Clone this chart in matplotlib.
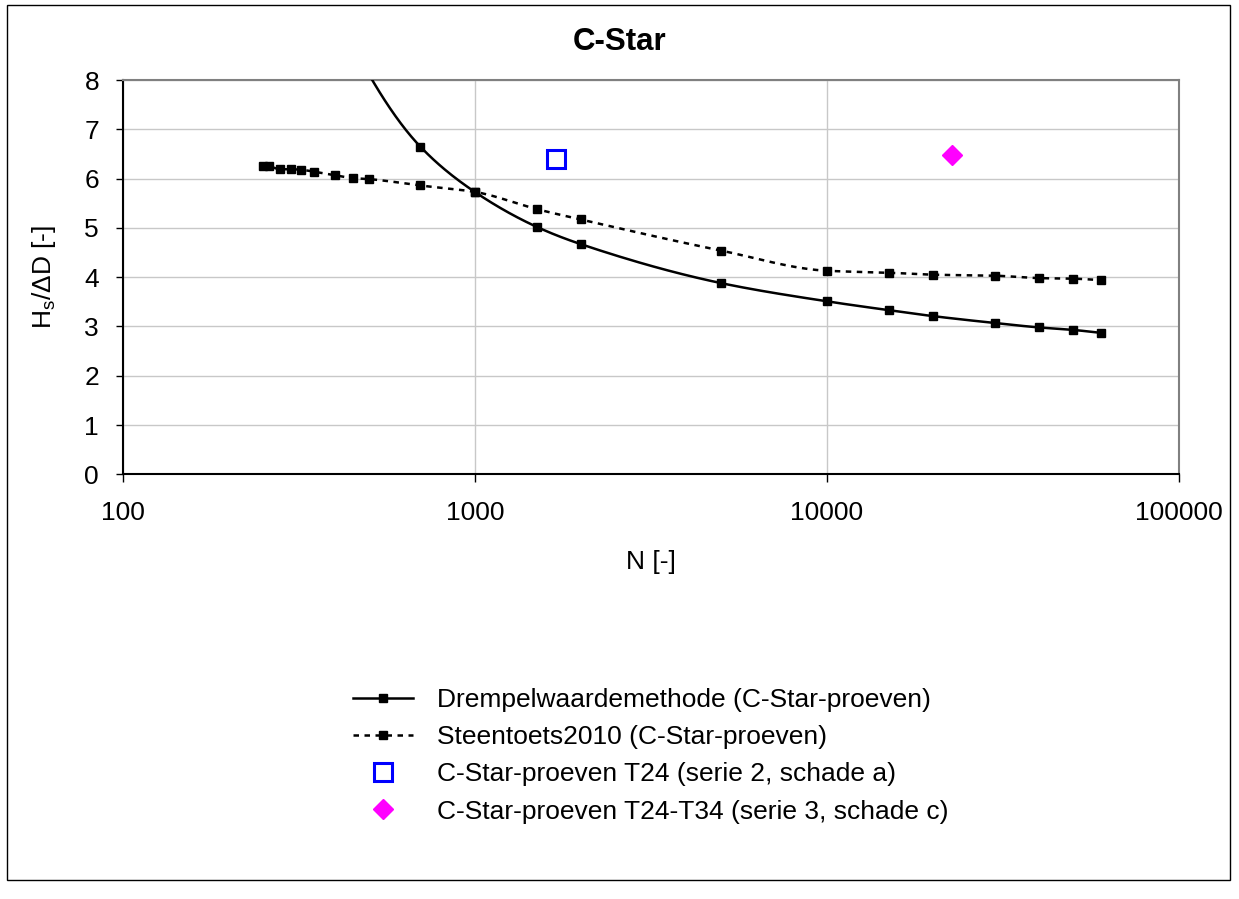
import matplotlib
matplotlib.use("Agg")
import matplotlib.pyplot as plt
import numpy as np
from matplotlib.lines import Line2D
from matplotlib.patches import Rectangle

plt.rcParams["font.family"] = ["Liberation Sans", "DejaVu Sans"]
plt.rcParams["mathtext.default"] = "regular"

# Drempelwaardemethode (C-Star-proeven); first two points lie above the axis limit
drempel_n = [450, 500, 700, 1000, 1500, 2000, 5000, 10000, 15000, 20000, 30000, 40000, 50000, 60000]
drempel_h = [8.8, 8.12, 6.65, 5.73, 5.02, 4.67, 3.88, 3.51, 3.33, 3.21, 3.07, 2.98, 2.93, 2.87]

# Steentoets2010 (C-Star-proeven)
steen_n = [250, 260, 280, 300, 320, 350, 400, 450, 500, 700, 1000, 1500, 2000, 5000,
           10000, 15000, 20000, 30000, 40000, 50000, 60000]
steen_h = [6.26, 6.25, 6.19, 6.19, 6.18, 6.14, 6.07, 6.01, 5.99, 5.86, 5.73, 5.38, 5.17, 4.54,
           4.13, 4.09, 4.05, 4.03, 3.98, 3.97, 3.94]

# test results
t24_n = [1700]
t24_h = [6.40]
t24_34_n = [22700]
t24_34_h = [6.47]

x_ticks = [100, 1000, 10000, 100000]
x_ticklabels = ["100", "1000", "10000", "100000"]
y_ticks = [0, 1, 2, 3, 4, 5, 6, 7, 8]

FS = 19
LW = 1.8
MS = 5.5
DASH = (2.2, 2.2)


def smooth(xs, ys, n=30):
    # monotone cubic (Fritsch-Carlson) through the points, in log-x space
    u = np.log10(np.asarray(xs, float))
    v = np.asarray(ys, float)
    h = np.diff(u)
    d = np.diff(v) / h
    m = np.zeros_like(v)
    m[0], m[-1] = d[0], d[-1]
    for k in range(1, len(v) - 1):
        if d[k - 1] * d[k] <= 0:
            m[k] = 0.0
        else:
            w1 = 2 * h[k] + h[k - 1]
            w2 = h[k] + 2 * h[k - 1]
            m[k] = (w1 + w2) / (w1 / d[k - 1] + w2 / d[k])
    out_u, out_v = [], []
    for k in range(len(v) - 1):
        t = np.linspace(0, 1, n)
        h00 = 2 * t ** 3 - 3 * t ** 2 + 1
        h10 = t ** 3 - 2 * t ** 2 + t
        h01 = -2 * t ** 3 + 3 * t ** 2
        h11 = t ** 3 - t ** 2
        seg_v = h00 * v[k] + h10 * h[k] * m[k] + h01 * v[k + 1] + h11 * h[k] * m[k + 1]
        seg_u = u[k] + t * h[k]
        if k > 0:
            seg_u, seg_v = seg_u[1:], seg_v[1:]
        out_u.extend(seg_u)
        out_v.extend(seg_v)
    return 10 ** np.array(out_u), np.array(out_v)


fig = plt.figure(figsize=(12.39, 8.99), dpi=100)
fig.patch.set_facecolor("white")
fig.patches.append(Rectangle((7 / 1239, 1 - 880 / 899), 1223 / 1239, 875 / 899,
                             transform=fig.transFigure, fill=False,
                             edgecolor="black", lw=1.0))

ax = fig.add_axes([0.0990, 0.4724, 0.8526, 0.4386])
ax.set_xscale("log")
ax.set_xlim(100, 100000)
ax.set_ylim(0, 8)

sx, sy = smooth(drempel_n, drempel_h)
ax.plot(sx, sy, color="black", lw=LW, zorder=3)
ax.plot(drempel_n, drempel_h, ls="none", marker="s", ms=MS, color="black", zorder=4)

tx, ty = smooth(steen_n, steen_h)
ax.plot(tx, ty, color="black", lw=LW, dashes=DASH, zorder=3)
ax.plot(steen_n, steen_h, ls="none", marker="s", ms=MS, color="black", zorder=4)

ax.plot(t24_n, t24_h, ls="none", marker="s", ms=12.5, mfc="white", mec="#0000ff", mew=2.2, zorder=5)
ax.plot(t24_34_n, t24_34_h, ls="none", marker="D", ms=10, mfc="#ff00ff", mec="#ff00ff", zorder=5)

ax.set_xticks(x_ticks)
ax.set_xticklabels(x_ticklabels)
ax.xaxis.set_minor_locator(matplotlib.ticker.NullLocator())
ax.set_yticks(y_ticks)
ax.grid(True, which="major", color="#c8c8c8", lw=1.0, zorder=0)
ax.set_axisbelow(True)

ax.tick_params(axis="x", direction="out", length=6, width=1, pad=13, labelsize=FS)
ax.tick_params(axis="y", direction="out", length=5, width=1, pad=12, labelsize=FS)
ax.spines["left"].set_color("black")
ax.spines["bottom"].set_color("black")
ax.spines["top"].set_color("#808080")
ax.spines["right"].set_color("#808080")
for s in ax.spines.values():
    s.set_linewidth(1.5)

ax.set_xlabel("N [-]", fontsize=FS, labelpad=18)
ax.set_ylabel("H$_s$/ΔD [-]", fontsize=FS, labelpad=19)
fig.text(620 / 1239, 1 - 42 / 899, "C-Star", fontsize=22.5, fontweight="bold",
         ha="center", va="center")

handles = [
    Line2D([], [], color="black", lw=LW, marker="s", ms=MS),
    Line2D([], [], color="black", lw=LW, dashes=DASH, marker="s", ms=MS),
    Line2D([], [], ls="none", marker="s", ms=12.5, mfc="white", mec="#0000ff", mew=2.2),
    Line2D([], [], ls="none", marker="D", ms=10, mfc="#ff00ff", mec="#ff00ff"),
]
labels = [
    "Drempelwaardemethode (C-Star-proeven)",
    "Steentoets2010 (C-Star-proeven)",
    "C-Star-proeven T24 (serie 2, schade a)",
    "C-Star-proeven T24-T34 (serie 3, schade c)",
]
fig.legend(handles, labels, loc="upper left", bbox_to_anchor=(353 / 1239, 1 - 688 / 899),
           frameon=False, fontsize=FS, handlelength=2.27, handletextpad=0.91,
           labelspacing=0.5, borderpad=0, borderaxespad=0, numpoints=1)

fig.savefig("out.png", dpi=100, facecolor="white")
